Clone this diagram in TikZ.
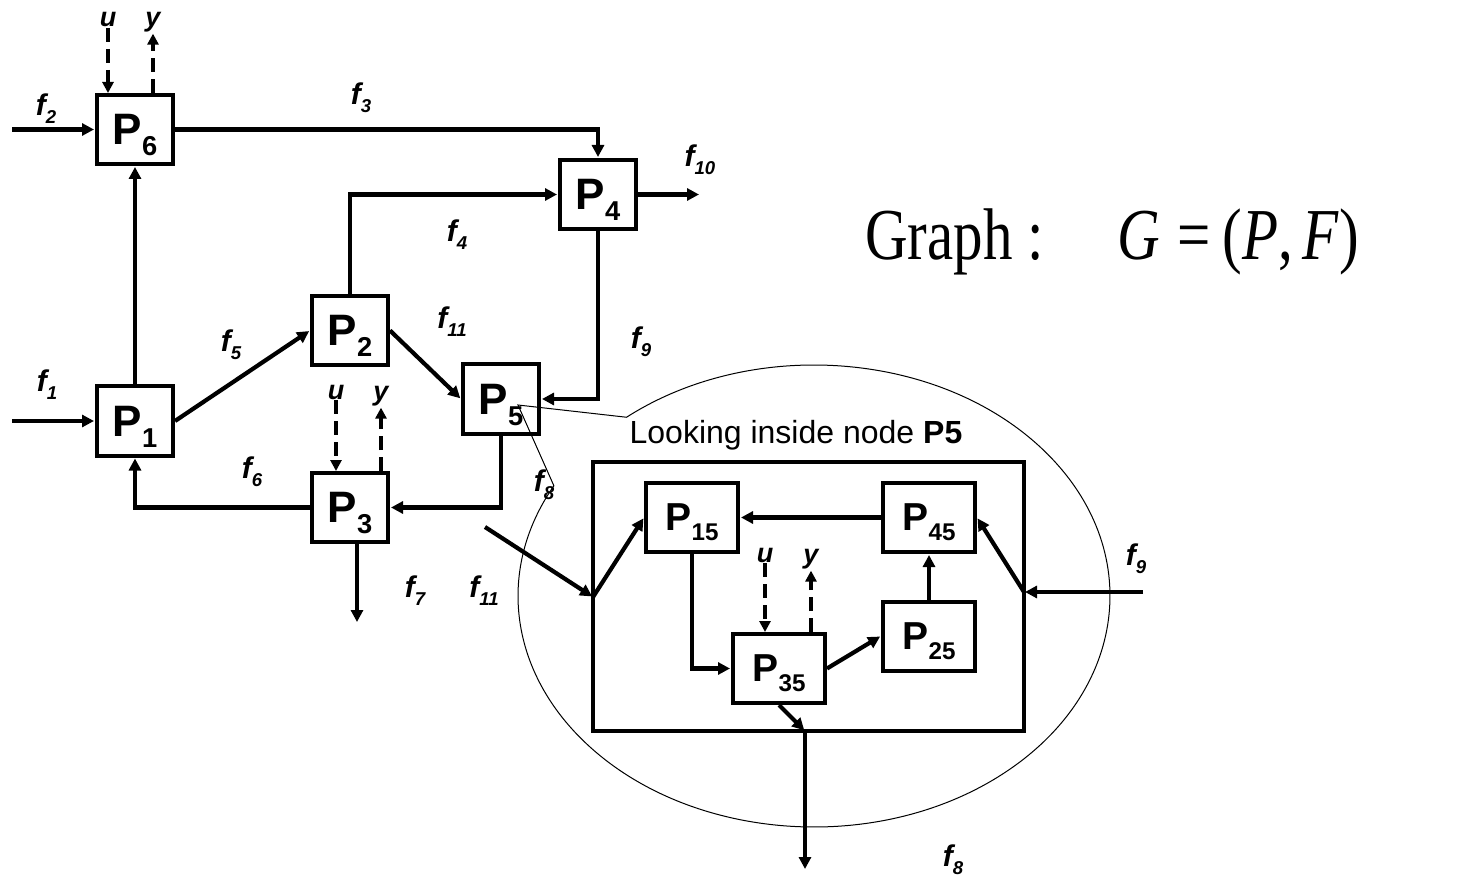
\documentclass[tikz,border=0pt]{standalone}
\usepackage{fontspec}
\setmainfont{Liberation Sans}
\newfontfamily\tnr{Liberation Serif}
\usetikzlibrary{arrows.meta, calc}

\newcommand{\lowsub}[1]{\raisebox{-0.25em}[0pt][0pt]{\scalebox{0.62}{#1}}}

\tikzset{
  proc/.style={draw, line width=4pt, minimum width=76pt, minimum height=69pt,
    inner sep=0pt, font=\fontsize{44}{44}\selectfont\bfseries},
  subproc/.style={proc, minimum width=92pt, font=\fontsize{39}{39}\selectfont\bfseries},
  flow/.style={line width=4.2pt, shorten >=1pt, -{Triangle[length=12pt,width=12pt]}},
  sig/.style={line width=3.8pt, dash pattern=on 14pt off 7pt, -{Triangle[length=11pt,width=11pt]}},
  flab/.style={font=\fontsize{30}{30}\selectfont\bfseries\itshape, inner sep=1pt},
  slab/.style={font=\fontsize{27}{27}\selectfont\bfseries\itshape, inner sep=1pt},
  zoomline/.style={line width=1pt},
}

\begin{document}
\begin{tikzpicture}[x=1pt, y=1pt]
  \useasboundingbox (0,0) rectangle (1468,-877);
  % process units of the plant
  \node[proc] (p6) at (135,-129.5) {P\lowsub{6}};
  \node[proc] (p4) at (598,-194.5) {P\lowsub{4}};
  \node[proc] (p2) at (350,-330.5) {P\lowsub{2}};
  \node[proc] (p5) at (501,-399) {P\lowsub{5}};
  \node[proc] (p1) at (135,-421) {P\lowsub{1}};
  \node[proc] (p3) at (350,-507.5) {P\lowsub{3}};
  \coordinate (f2in) at (12,-129.5);
  \coordinate (f1in) at (12,-421);
  \coordinate (f10out) at (700,-194.5);
  \coordinate (f7out) at (357,-623);
  % flows between units
  \draw[flow] (f2in) -- (p6.west);
  \draw[flow] (f1in) -- (p1.west);
  \draw[flow] (p1.north) -- (p6.south);
  \draw[flow] (p6.east) -| (p4.north);
  \draw[flow] (p2.north) |- (p4.west);
  \draw[flow] (p4.east) -- (f10out);
  \draw[flow] (p4.south) |- (p5.east);
  \draw[flow] (p1.east) -- (p2.west);
  \draw[flow] (p2.east) -- (p5.west);
  \draw[flow] (p5.south) |- (p3.east);
  \draw[flow] (p3.west) -| (p1.south);
  \draw[flow] (f7out |- p3.south) -- (f7out);
  % inputs u and outputs y
  \node[slab] (u6) at (108,-19.5) {u};
  \node[slab] (y6) at (153,-22.5) {y};
  \draw[sig] (u6) -- (u6 |- p6.north);
  \draw[sig] (y6 |- p6.north) -- (y6);
  \node[slab] (u3) at (336,-392) {u};
  \node[slab] (y3) at (381,-396.5) {y};
  \draw[sig] (u3) -- (u3 |- p3.north);
  \draw[sig] (y3 |- p3.north) -- (y3);
  % flow labels
  \node[flab] (lf2) at (46,-105) {f\lowsub{2}};
  \node[flab] (lf3) at (361,-94) {f\lowsub{3}};
  \node[flab] (lf10) at (700,-156) {f\lowsub{10}};
  \node[flab] (lf4) at (457,-231) {f\lowsub{4}};
  \node[flab] (lf1) at (47,-381) {f\lowsub{1}};
  \node[flab] (lf5) at (231,-341) {f\lowsub{5}};
  \node[flab] (lf6) at (252,-468) {f\lowsub{6}};
  \node[flab] (lf11) at (452,-318) {f\lowsub{11}};
  \node[flab] (lf9) at (641,-338) {f\lowsub{9}};
  \node[flab] (lf8) at (544,-481) {f\lowsub{8}};
  \node[flab] (lf7) at (415,-587) {f\lowsub{7}};

  % graph definition
  \node[anchor=base west, inner sep=0pt, font=\tnr\fontsize{59}{59}\selectfont] (gname)
    at (865,-260) {\scalebox{1}[1.24]{Graph :}};
  \node[anchor=base west, inner sep=0pt, font=\tnr\fontsize{59}{59}\selectfont] (geq)
    at (1117,-260) {\scalebox{1}[1.24]{\textit{G}\hspace{0.3em}=\hspace{0.2em}(\textit{P},\,\textit{F})}};

  % zoom into P5
  \coordinate (tip) at (518,-405);
  \draw[zoomline] (tip) -- ($(814,-596)+(129.3:296 and 231)$)
    arc[start angle=129.3, end angle=-208.5, x radius=296, y radius=231] -- cycle;
  \node[font=\fontsize{32}{32}\selectfont] (look) at (796,-435) {Looking inside node \textbf{P5}};
  \node[draw, line width=4pt, minimum width=431pt, minimum height=269pt, inner sep=0pt]
    (inbox) at (808.5,-596.5) {};
  \node[subproc] (p15) at (692,-517.5) {P\lowsub{15}};
  \node[subproc] (p45) at (929,-517.5) {P\lowsub{45}};
  \node[subproc] (p25) at (929,-636) {P\lowsub{25}};
  \node[subproc] (p35) at (779,-668.5) {P\lowsub{35}};
  \coordinate (jl) at (593,-597);
  \coordinate (jr) at (1024,-592);
  \coordinate (jb) at (805,-731);
  \coordinate (f11in) at (485,-527);
  \coordinate (f9in) at (1143,-592);
  \coordinate (f8out) at (805,-870);
  \draw[flow] (f11in) -- (jl);
  \draw[flow] (jl) -- (p15.west);
  \draw[flow] (f9in) -- (jr);
  \draw[flow] (jr) -- (p45.east);
  \draw[flow] (p45.west) -- (p15.east);
  \draw[flow] (p15.south) |- (p35.west);
  \draw[flow] (p35.east) -- (p25.west);
  \draw[flow] (p25.north) -- (p45.south);
  \draw[flow] (p35.south) -- (jb);
  \draw[flow] (jb) -- (f8out);
  \node[slab] (u35) at (765,-555) {u};
  \node[slab] (y35) at (811,-559.5) {y};
  \draw[sig] (u35) -- (u35 |- p35.north);
  \draw[sig] (y35 |- p35.north) -- (y35);
  \node[flab] (lf11b) at (484,-587) {f\lowsub{11}};
  \node[flab] (lf9b) at (1136,-555) {f\lowsub{9}};
  \node[flab] (lf8b) at (953,-856) {f\lowsub{8}};
\end{tikzpicture}
\end{document}
